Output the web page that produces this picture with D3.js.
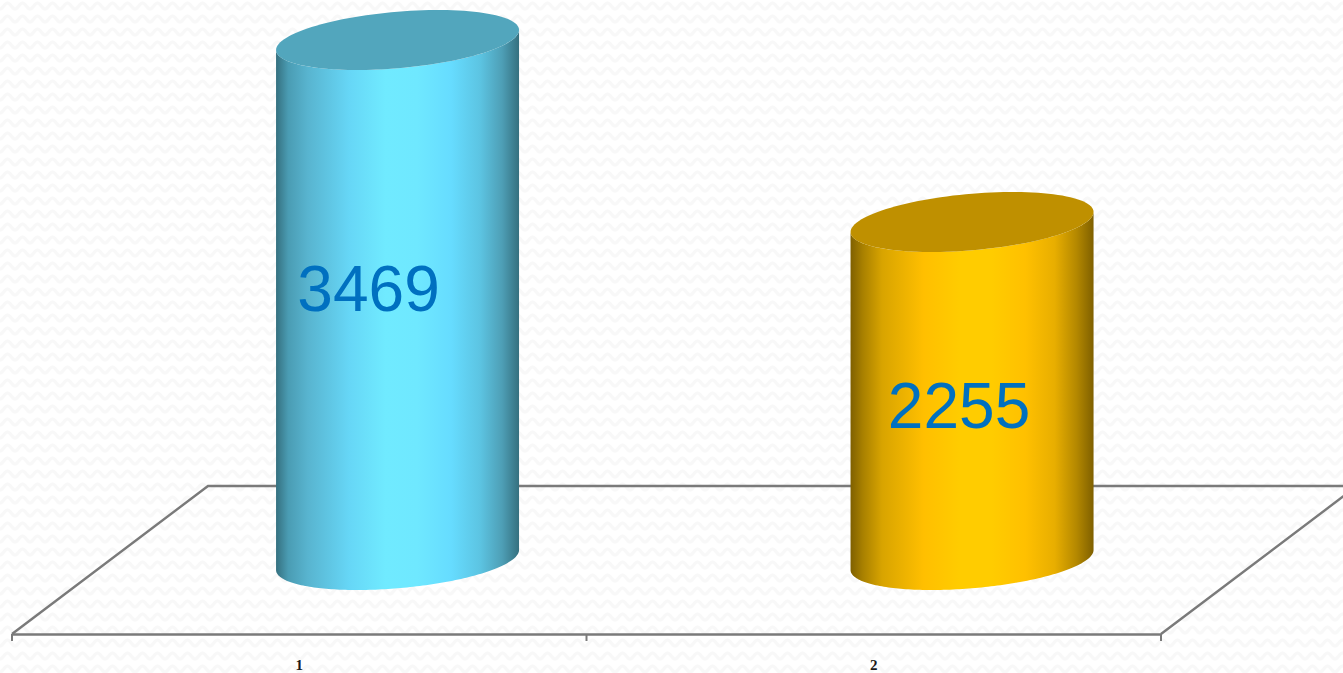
<!DOCTYPE html>
<html>
<head>
<meta charset="utf-8">
<style>
  html, body { margin: 0; padding: 0; background: #fff; overflow: hidden; }
  svg { display: block; }
</style>
<script src="https://cdn.jsdelivr.net/npm/d3@7/dist/d3.min.js"></script>
</head>
<body>
<svg id="chart" width="1343" height="673"></svg>
<script>
// Chart values
const categories = ["1", "2"];
const values = [3469, 2255];

// Colours per cylinder: lid plus the shading stops across the side wall
const lidColors = ["#52a6bd", "#bf9000"];
const sideStops = [
  [[0, "#35707f"], [0.05, "#4a9cb3"], [0.13, "#58b4cf"], [0.3, "#66d6f6"], [0.45, "#70eaff"], [0.58, "#6fe8ff"], [0.72, "#66dcff"], [0.84, "#5cc4e2"], [0.93, "#4e9fb6"], [1, "#35707f"]],
  [[0, "#7f6000"], [0.05, "#a88000"], [0.13, "#d8a400"], [0.3, "#ffbf00"], [0.45, "#ffcc00"], [0.58, "#ffcc00"], [0.72, "#ffc000"], [0.84, "#e8ae00"], [0.93, "#b48800"], [1, "#7f6000"]]
];

// Layout of the 3D floor
const width = 1343, height = 673;
const frontLeft = 12, frontRight = 1161, frontY = 634;
const depthX = 196, depthY = -148;
const barWidth = 243, lidRise = 10, lidHalfHeight = 30;
const labelNudge = [[-29, -11], [-13, 15]];

const svg = d3.select("#chart");
const defs = svg.append("defs");

// Faint wavy wallpaper behind the plot
const wallpaper = defs.append("pattern")
  .attr("id", "wallpaper")
  .attr("patternUnits", "userSpaceOnUse")
  .attr("width", 15).attr("height", 13);
wallpaper.append("rect").attr("width", 15).attr("height", 13).attr("fill", "#ffffff");
wallpaper.append("path")
  .attr("d", "M0 9 C3 9 4.5 3 7.5 3 C10.5 3 12 9 15 9")
  .attr("fill", "none").attr("stroke", "#f8f8f8").attr("stroke-width", 3);
svg.append("rect").attr("width", width).attr("height", height).attr("fill", "url(#wallpaper)");

// Scales: bands along the front edge, heights measured up from the mid-floor line
const floorY = frontY + depthY / 2;
const x = d3.scaleBand().domain(categories).range([frontLeft, frontRight]);
const y = d3.scaleLinear().domain([0, 3469]).range([floorY, 40]);

// Floor outline
const floorLine = "#7a7a7a";
const floor = svg.append("g").attr("fill", "none").attr("stroke", floorLine).attr("stroke-width", 2.4);
floor.append("path").attr("d", d3.line()([
  [frontLeft, frontY], [frontLeft + depthX, frontY + depthY], [frontRight + depthX, frontY + depthY], [frontRight, frontY]
]));

// Front axis with its ticks and labels
const axis = svg.append("g")
  .attr("transform", `translate(0,${frontY})`)
  .call(d3.axisBottom(x).tickSize(0).tickPadding(25));
axis.select(".domain").attr("stroke", floorLine).attr("stroke-width", 2.4);
axis.selectAll("text")
  .attr("font-family", "'Liberation Serif', serif")
  .attr("font-weight", "bold")
  .attr("font-size", 15)
  .attr("fill", "#1a1a1a");
axis.selectAll("line.edge")
  .data([frontLeft, x("2"), frontRight])
  .join("line")
  .attr("class", "edge")
  .attr("x1", d => d).attr("x2", d => d)
  .attr("y1", 0).attr("y2", 7)
  .attr("stroke", floorLine).attr("stroke-width", 2);

// Tilted ellipse outline: half-width a, shear s, half-height b, sampled over a range of angles
const a = barWidth / 2;
const shear = -lidRise;
const b = Math.sqrt(lidHalfHeight * lidHalfHeight - lidRise * lidRise);
const ellipsePoint = (cx, cy, t) => [cx + a * Math.cos(t), cy + shear * Math.cos(t) + b * Math.sin(t)];
const ellipseArc = (cx, cy, t0, t1) => d3.range(0, 121).map(i => ellipsePoint(cx, cy, t0 + (t1 - t0) * i / 120));

const data = categories.map((c, i) => ({ c, i, v: values[i] }));

data.forEach(d => {
  const cx = x(d.c) + x.bandwidth() / 2 + depthX / 2 + 0.3;
  const gradient = defs.append("linearGradient")
    .attr("id", `side-${d.i}`)
    .attr("x1", 0).attr("x2", 1).attr("y1", 0).attr("y2", 0);
  gradient.selectAll("stop").data(sideStops[d.i]).join("stop")
    .attr("offset", s => s[0]).attr("stop-color", s => s[1]);

  const topY = y(d.v), baseY = y(0);
  const g = svg.append("g");
  // Side wall: top rim back edge is hidden by the lid, bottom follows the near half of the base
  const bottom = ellipseArc(cx, baseY, 0, Math.PI);
  const top = ellipseArc(cx, topY, Math.PI, 0);
  g.append("path")
    .attr("d", d3.line()(top.concat(bottom)) + "Z")
    .attr("fill", `url(#side-${d.i})`);
  // Lid
  g.append("path")
    .attr("d", d3.line()(ellipseArc(cx, topY, 0, 2 * Math.PI)) + "Z")
    .attr("fill", lidColors[d.i]);
  // Value label
  g.append("text")
    .attr("x", cx + labelNudge[d.i][0])
    .attr("y", (topY + baseY) / 2 + labelNudge[d.i][1])
    .attr("dy", "0.35em")
    .attr("text-anchor", "middle")
    .attr("font-family", "'Liberation Sans', Arial, sans-serif")
    .attr("font-size", 64)
    .attr("fill", "#0070c0")
    .text(d.v);
});
</script>
</body>
</html>
